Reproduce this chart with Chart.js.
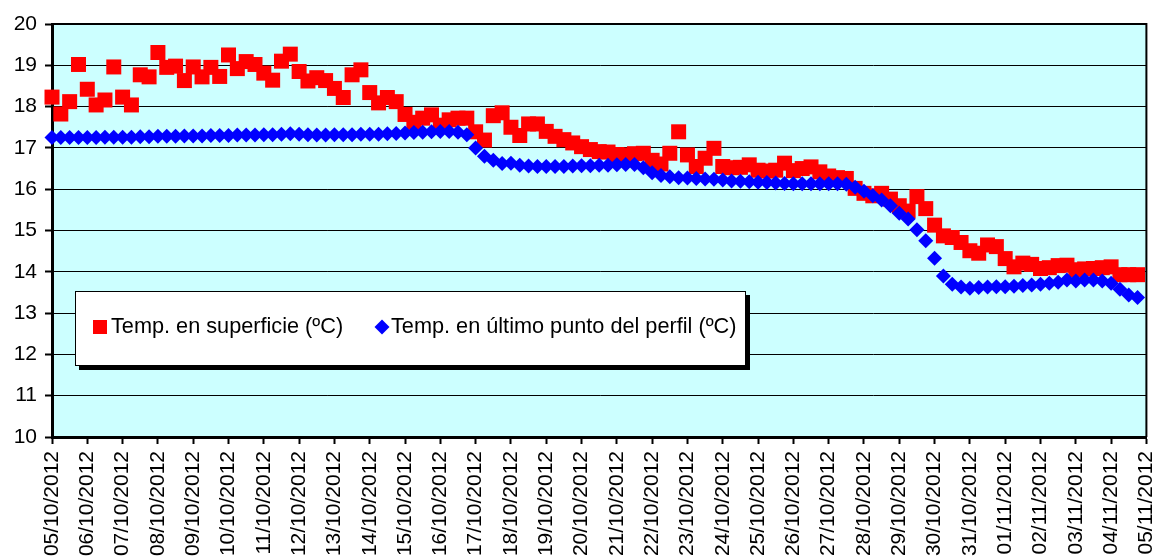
<!DOCTYPE html>
<html><head><meta charset="utf-8">
<script src="https://cdn.jsdelivr.net/npm/chart.js@4.4.0/dist/chart.umd.min.js"></script>
<style>html,body{margin:0;padding:0;background:#fff}canvas{display:block}</style>
</head><body>
<canvas id="c" width="1157" height="558"></canvas>
<script>
// Tick labels of the x axis (one per day, 4 samples per day, every 6 h)
const dateLabels = ['05/10/2012','06/10/2012','07/10/2012','08/10/2012','09/10/2012','10/10/2012','11/10/2012','12/10/2012','13/10/2012','14/10/2012','15/10/2012','16/10/2012','17/10/2012','18/10/2012','19/10/2012','20/10/2012','21/10/2012','22/10/2012','23/10/2012','24/10/2012','25/10/2012','26/10/2012','27/10/2012','28/10/2012','29/10/2012','30/10/2012','31/10/2012','01/11/2012','02/11/2012','03/11/2012','04/11/2012','05/11/2012'];
const samplesPerDay = 4;

const seriesNames = ['Temp. en superficie (ºC)', 'Temp. en último punto del perfil (ºC)'];

const surfaceTemp = [
18.23,17.82,18.12,19.02,18.42,18.04,18.16,18.96,18.23,18.04,
18.77,18.72,19.31,18.95,18.98,18.63,18.96,18.72,18.95,18.73,
19.25,18.92,19.09,19.02,18.81,18.64,19.10,19.27,18.85,18.62,
18.70,18.63,18.44,18.22,18.77,18.89,18.34,18.09,18.22,18.12,
17.81,17.62,17.72,17.80,17.55,17.68,17.72,17.72,17.39,17.19,
17.78,17.85,17.50,17.30,17.58,17.58,17.40,17.28,17.20,17.12,
17.03,16.96,16.91,16.90,16.84,16.83,16.86,16.87,16.70,16.61,
16.87,17.39,16.83,16.55,16.75,16.99,16.55,16.52,16.53,16.59,
16.46,16.44,16.46,16.63,16.45,16.50,16.54,16.42,16.32,16.28,
16.26,16.02,15.90,15.84,15.90,15.76,15.60,15.47,15.82,15.53,
15.13,14.87,14.83,14.71,14.51,14.45,14.65,14.61,14.32,14.12,
14.21,14.18,14.08,14.10,14.15,14.16,14.05,14.07,14.08,14.10,
14.12,13.93,13.93,13.93];

const bottomTemp = [
17.25,17.25,17.25,17.25,17.25,17.25,17.26,17.26,17.26,17.26,
17.27,17.27,17.28,17.28,17.28,17.29,17.29,17.29,17.30,17.30,
17.30,17.31,17.31,17.31,17.32,17.32,17.33,17.34,17.33,17.32,
17.31,17.31,17.32,17.32,17.32,17.33,17.33,17.33,17.34,17.35,
17.36,17.37,17.38,17.39,17.40,17.40,17.38,17.32,17.00,16.80,
16.70,16.62,16.63,16.58,16.56,16.55,16.55,16.55,16.55,16.56,
16.57,16.57,16.58,16.58,16.59,16.60,16.60,16.52,16.40,16.33,
16.30,16.28,16.27,16.26,16.25,16.24,16.22,16.20,16.19,16.18,
16.17,16.16,16.15,16.14,16.13,16.13,16.13,16.13,16.13,16.13,
16.12,16.05,15.95,15.84,15.74,15.60,15.42,15.28,15.02,14.75,
14.33,13.90,13.70,13.63,13.60,13.62,13.63,13.64,13.64,13.65,
13.67,13.68,13.70,13.72,13.75,13.80,13.78,13.80,13.80,13.78,
13.72,13.58,13.44,13.38];

const toXY = arr => arr.map((v, i) => ({x: i, y: v}));
const FONT = '"Liberation Sans", Arial, sans-serif';
Chart.defaults.font.family = FONT;
Chart.defaults.color = '#000';

const plotBg = {
  id: 'plotBg',
  beforeDraw(chart) {
    const {ctx, chartArea: a} = chart;
    ctx.save();
    ctx.fillStyle = '#CCFFFF';
    ctx.fillRect(a.left, a.top, a.right - a.left, a.bottom - a.top);
    ctx.restore();
  },
  beforeDatasetsDraw(chart) {
    const {ctx, chartArea: a} = chart;
    ctx.save();
    ctx.strokeStyle = '#000';
    ctx.lineWidth = 2;
    ctx.beginPath();
    ctx.moveTo(a.left, a.top);
    ctx.lineTo(a.right, a.top);
    ctx.lineTo(a.right, a.bottom);
    ctx.stroke();
    ctx.restore();
  }
};

const legendBox = {
  id: 'legendBox',
  afterDatasetsDraw(chart) {
    const ctx = chart.ctx;
    const x = 75, y = 291, w = 671, h = 75;
    ctx.save();
    ctx.fillStyle = '#000';
    ctx.fillRect(x + 4, y + 4, w, h);
    ctx.fillStyle = '#fff';
    ctx.fillRect(x, y, w, h);
    ctx.strokeStyle = '#000';
    ctx.lineWidth = 1;
    ctx.strokeRect(x + 0.5, y + 0.5, w - 1, h - 1);
    const cy = 327;
    const ds = chart.data.datasets;
    // red square
    ctx.fillStyle = ds[0].pointBackgroundColor;
    ctx.fillRect(93, cy - 7, 14, 14);
    // blue diamond
    ctx.fillStyle = ds[1].pointBackgroundColor;
    const dx = 382;
    ctx.beginPath();
    ctx.moveTo(dx - 7.5, cy); ctx.lineTo(dx, cy - 7.5); ctx.lineTo(dx + 7.5, cy); ctx.lineTo(dx, cy + 7.5);
    ctx.closePath(); ctx.fill();
    ctx.fillStyle = '#000';
    ctx.font = '21.7px ' + FONT;
    ctx.textBaseline = 'middle';
    ctx.textAlign = 'left';
    ctx.fillText(ds[0].label, 111, cy);
    ctx.fillText(ds[1].label, 391, cy);
    ctx.restore();
  }
};

new Chart(document.getElementById('c'), {
  type: 'line',
  data: {
    datasets: [
      {label: seriesNames[0], data: toXY(surfaceTemp), showLine: false, pointStyle: 'rect',
       pointRadius: 10.6, pointBorderWidth: 0, pointBackgroundColor: '#FF0000', pointBorderColor: '#FF0000',
       order: 2, clip: false},
      {label: seriesNames[1], data: toXY(bottomTemp), showLine: false, pointStyle: 'rectRot',
       pointRadius: 7.5, pointBorderWidth: 0, pointBackgroundColor: '#0000FF', pointBorderColor: '#0000FF',
       order: 1, clip: false}
    ]
  },
  options: {
    responsive: false,
    animation: false,
    devicePixelRatio: 1,
    events: [],
    layout: {padding: {top: 24, left: 1, right: 9, bottom: 0}},
    plugins: {legend: {display: false}, tooltip: {enabled: false}},
    scales: {
      x: {
        type: 'linear', min: 0, max: (dateLabels.length - 1) * samplesPerDay,
        afterFit(s) { s.height = 121; s.paddingLeft = 0; s.paddingRight = 0; },
        grid: {drawOnChartArea: false, drawTicks: true, tickLength: 7, tickWidth: 2, tickColor: '#000'},
        border: {display: true, color: '#000', width: 3},
        ticks: {stepSize: samplesPerDay, maxTicksLimit: 100, autoSkip: false, maxRotation: 90, minRotation: 90,
                padding: 7, color: '#000', font: {size: 21},
                callback: v => dateLabels[Math.round(v / samplesPerDay)] ?? ''}
      },
      y: {
        min: 10, max: 20,
        afterFit(s) { s.width = 51; s.paddingTop = 0; s.paddingBottom = 0; },
        grid: {color: '#000', lineWidth: 1, drawTicks: true, tickLength: 7, tickWidth: 2, tickColor: '#000'},
        border: {display: true, color: '#000', width: 3},
        ticks: {stepSize: 1, padding: 8, color: '#000', font: {size: 21}}
      }
    }
  },
  plugins: [plotBg, legendBox]
});
</script>
</body></html>
